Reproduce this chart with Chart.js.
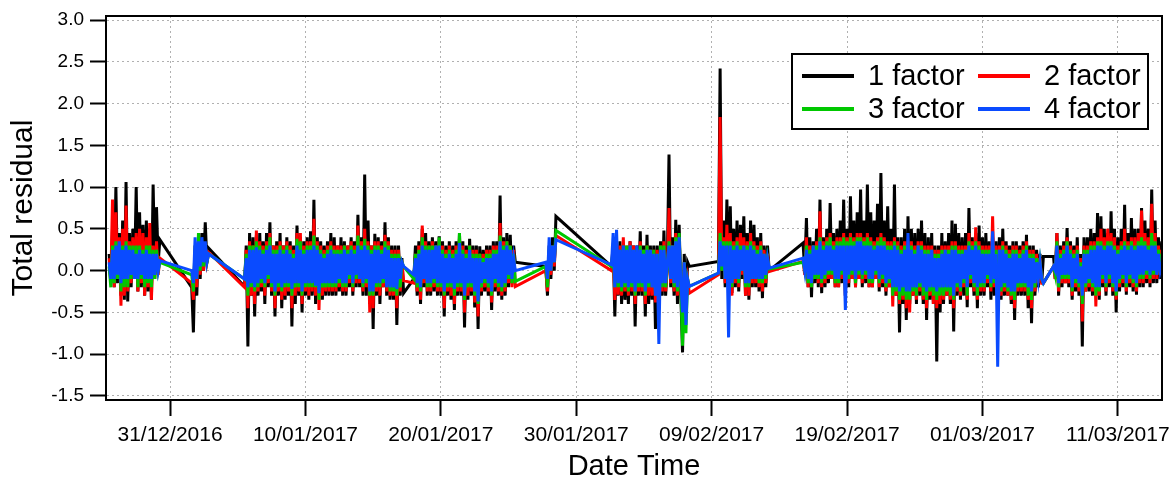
<!DOCTYPE html>
<html>
<head>
<meta charset="utf-8">
<script src="https://cdn.jsdelivr.net/npm/chart.js"></script>
<style>
  html, body { margin: 0; padding: 0; background: #fff; }
  #wrap { width: 1172px; height: 482px; }
</style>
</head>
<body>
<div id="wrap"><canvas id="residChart" width="1172" height="482"></canvas></div>
<script>
//RESIDUALS OF THE FACTOR SOLUTIONS, DEC 2016 - MAR 2017
//x values are days counted from 31/12/2016 00:00, sampled every 3 h inside each run

var STEP = 0.125;
var segStart = [-4.5, 1.6, 5.5, 18, 27.75, 32.6, 40.5, 46.75, 65.25];

var tickDays = [0, 10, 20, 30, 40, 50, 60, 70];
var tickLabels = ['31/12/2016', '10/01/2017', '20/01/2017', '30/01/2017',
                  '09/02/2017', '19/02/2017', '01/03/2017', '11/03/2017'];
var yTicks = [-1.5, -1.0, -0.5, 0.0, 0.5, 1.0, 1.5, 2.0, 2.5, 3.0];

var seriesNames = ['1 factor', '2 factor', '3 factor', '4 factor'];
var seriesColors = ['#000000', '#ff0000', '#00c800', '#0a4bff'];

//one sub array per measuring run
var factor1 = [
    [0.2, -0.1, 0.5, -0.2, 1.0, -0.15, 0.45, -0.3, 0.6, -0.35, 1.06, -0.37, 0.45, -0.2, 0.5, -0.1,
     1.0, -0.25, 0.7, -0.2, 0.55, -0.3, 0.6, -0.25, 0.5, -0.35, 1.03, 0.0, 0.76, 0.1, 0.37],
    [-0.2, -0.74, 0.2, -0.3, 0.35, -0.1, 0.45, 0.0, 0.58, 0.1, 0.27],
    [-0.19, 0.3, -0.91, 0.45, -0.3, 0.4, -0.55, 0.42, -0.3, 0.45,
     -0.25, 0.35, -0.4, 0.45, -0.2, 0.58, -0.3, 0.3, -0.55, 0.35,
     -0.3, 0.45, -0.45, 0.3, -0.35, 0.4, -0.3, 0.35, -0.67, 0.3,
     -0.4, 0.54, -0.3, 0.4, -0.5, 0.35, -0.3, 0.4, -0.35, 0.47,
     -0.3, 0.85, -0.4, 0.4, -0.3, 0.35, -0.35, 0.3, -0.3, 0.35,
     -0.3, 0.45, -0.3, 0.4, -0.3, 0.3, -0.25, 0.4, -0.3, 0.35,
     -0.3, 0.3, -0.2, 0.4, -0.3, 0.35, -0.2, 0.67, -0.2, 0.4,
     -0.3, 1.15, -0.3, 0.6, -0.4, 0.3, -0.7, 0.44, -0.3, 0.4,
     -0.4, 0.35, -0.2, 0.58, -0.3, 0.4, -0.35, 0.3, -0.35, 0.3,
     -0.65, 0.3, -0.3, 0.15, -0.27],
    [-0.1, 0.3, -0.3, 0.35, -0.4, 0.5, -0.2, 0.45, -0.3, 0.35,
     -0.3, 0.4, -0.25, 0.35, -0.3, 0.41, -0.3, 0.35, -0.55, 0.3,
     -0.3, 0.35, -0.35, 0.3, -0.47, 0.35, -0.3, 0.45, -0.3, 0.35,
     -0.68, 0.3, -0.35, 0.38, -0.3, 0.3, -0.44, 0.3, -0.7, 0.29,
     -0.3, 0.25, -0.25, 0.3, -0.3, 0.3, -0.47, 0.35, -0.25, 0.35,
     -0.3, 0.9, -0.35, 0.4, -0.3, 0.45, -0.2, 0.43, -0.15, 0.3,
     0.1],
    [0.05, -0.3, 0.3, -0.1, 0.4, 0.0, 0.65],
    [0.05, 0.3, -0.55, 0.3, -0.3, 0.35, -0.4, 0.3, -0.35, 0.2,
     -0.4, 0.35, -0.3, 0.3, -0.67, 0.3, -0.3, 0.47, -0.3, 0.3,
     -0.55, 0.43, -0.4, 0.3, -0.35, 0.3, -0.7, 0.3, -0.4, 0.35,
     -0.3, 0.48, -0.3, 0.1, 1.39, -0.2, 0.4, -0.3, 0.61, -0.4,
     0.55, -0.3, -0.98, 0.2, -0.4, 0.1, 0.05],
    [0.11, 2.42, -0.1, 0.6, -0.2, 0.85, -0.25, 0.77, -0.27, 0.5, -0.2, 0.6, -0.25, 0.55, -0.1, 0.65,
     -0.3, 0.45, -0.35, 0.6, -0.2, 0.55, -0.2, 0.4, -0.25, 0.45, -0.33, 0.3, -0.2, 0.3, 0.0],
    [0.33, 0.0, 0.63, -0.2, 0.4, -0.32, 0.35, -0.15, 0.5, -0.2,
     0.85, -0.27, 0.4, -0.2, 0.5, -0.15, 0.81, -0.1, 0.45, -0.2,
     0.5, -0.2, 0.6, -0.15, 0.85, -0.3, 0.5, -0.2, 0.89, -0.1,
     0.6, -0.2, 0.7, -0.1, 0.97, -0.2, 0.6, -0.15, 1.03, -0.2,
     0.7, -0.2, 0.6, -0.1, 0.8, -0.25, 1.17, -0.2, 0.6, -0.3,
     0.77, -0.2, 0.5, -0.3, 1.03, -0.3, 0.4, -0.74, 0.4, -0.4,
     0.5, -0.59, 0.65, -0.4, 0.5, -0.3, 0.45, -0.4, 0.5, -0.3,
     0.6, -0.4, 0.45, -0.59, 0.4, -0.35, 0.45, -0.4, 0.3, -1.09,
     0.3, -0.5, 0.45, -0.4, 0.35, -0.3, 0.45, -0.4, 0.6, -0.73,
     0.56, -0.3, 0.45, -0.35, 0.4, -0.3, 0.45, -0.44, 0.75, -0.2,
     0.4, -0.3, 0.45, -0.45, 0.54, -0.3, 0.4, -0.3, 0.45, -0.2,
     0.35, -0.35, 0.4, -0.3, 0.35, -0.3, 0.4, -0.35, 0.5, -0.3,
     0.35, -0.3, 0.3, -0.4, 0.35, -0.59, 0.35, -0.3, 0.3, -0.3,
     0.35, -0.3, 0.43, -0.45, 0.3, -0.63, 0.3, -0.3, 0.25, -0.2,
     0.2, -0.15, 0.17],
    [0.17, -0.1, 0.45, -0.3, 0.3, -0.2, 0.35, -0.15, 0.51, -0.2,
     0.35, -0.35, 0.3, -0.25, 0.4, -0.3, 0.2, -0.91, 0.4, -0.25,
     0.4, -0.25, 0.5, -0.3, 0.45, -0.2, 0.69, -0.35, 0.65, -0.2,
     0.5, -0.3, 0.45, -0.2, 0.71, -0.3, 0.5, -0.5, 0.4, -0.25,
     0.5, -0.2, 0.79, -0.29, 0.45, -0.2, 0.63, -0.25, 0.5, -0.29,
     0.5, -0.2, 0.75, -0.2, 0.6, -0.15, 0.5, -0.2, 0.97, -0.15,
     0.6, -0.15, 0.4, -0.1, 0.35]
];

var factor2 = [
    [0.15, -0.15, 0.85, -0.2, 0.7, -0.1, 0.4, -0.42, 0.5, -0.3, 0.78, -0.25, 0.35, -0.15, 0.4, -0.1,
     0.45, -0.25, 0.5, -0.15, 0.45, -0.3, 0.4, -0.2, 0.57, -0.35, 0.3, -0.1, 0.35, -0.05, 0.15],
    [-0.15, -0.35, 0.3, -0.2, 0.4, -0.05, 0.35, 0.0, 0.3, 0.1, 0.22],
    [-0.2, 0.25, -0.45, 0.35, -0.3, 0.3, -0.4, 0.48, -0.25, 0.35,
     -0.2, 0.3, -0.3, 0.35, -0.15, 0.45, -0.25, 0.3, -0.45, 0.3,
     -0.25, 0.35, -0.35, 0.3, -0.3, 0.35, -0.25, 0.3, -0.45, 0.25,
     -0.3, 0.45, -0.25, 0.45, -0.4, 0.3, -0.25, 0.35, -0.3, 0.35,
     -0.25, 0.62, -0.3, 0.35, -0.47, 0.3, -0.3, 0.25, -0.25, 0.3,
     -0.25, 0.35, -0.25, 0.3, -0.25, 0.3, -0.2, 0.3, -0.25, 0.3,
     -0.25, 0.3, -0.15, 0.35, -0.25, 0.3, -0.15, 0.54, -0.15, 0.35,
     -0.25, 0.5, -0.2, 0.35, -0.5, 0.3, -0.45, 0.35, -0.25, 0.35,
     -0.3, 0.3, -0.2, 0.43, -0.25, 0.35, -0.3, 0.25, -0.3, 0.25,
     -0.45, 0.25, -0.25, 0.1, -0.12],
    [-0.15, 0.2, -0.25, 0.3, -0.35, 0.54, -0.15, 0.35, -0.25, 0.3,
     -0.25, 0.35, -0.2, 0.3, -0.25, 0.35, -0.25, 0.3, -0.45, 0.25,
     -0.25, 0.3, -0.3, 0.25, -0.4, 0.3, -0.25, 0.38, -0.25, 0.3,
     -0.5, 0.25, -0.3, 0.3, -0.25, 0.25, -0.38, 0.25, -0.55, 0.2,
     -0.25, 0.2, -0.2, 0.25, -0.25, 0.25, -0.38, 0.3, -0.2, 0.3,
     -0.25, 0.57, -0.3, 0.35, -0.25, 0.35, -0.15, 0.3, -0.2, 0.25,
     -0.19],
    [0.0, -0.25, 0.2, -0.05, 0.3, 0.05, 0.42],
    [0.0, 0.25, -0.35, 0.25, -0.29, 0.3, -0.3, 0.4, -0.25, 0.3,
     -0.3, 0.35, -0.25, 0.3, -0.4, 0.25, -0.25, 0.35, -0.25, 0.25,
     -0.4, 0.3, -0.3, 0.25, -0.3, 0.25, -0.38, 0.25, -0.3, 0.3,
     -0.25, 0.35, -0.25, 0.0, 0.75, -0.15, 0.3, -0.25, 0.45, -0.3,
     0.4, -0.2, -0.6, 0.1, -0.3, -0.1, -0.27],
    [-0.05, 1.84, 0.0, 0.4, -0.15, 0.55, -0.2, 0.45, -0.3, 0.35, -0.15, 0.4, -0.2, 0.45, -0.05, 0.4,
     -0.3, 0.35, -0.3, 0.45, -0.15, 0.35, -0.15, 0.3, -0.2, 0.35, -0.25, 0.25, -0.15, 0.2, -0.01],
    [0.11, -0.05, 0.4, -0.2, 0.3, -0.2, 0.3, -0.1, 0.35, -0.15,
     0.71, -0.2, 0.35, -0.15, 0.4, -0.1, 0.45, -0.1, 0.35, -0.2,
     0.4, -0.2, 0.4, -0.1, 0.45, -0.3, 0.4, -0.15, 0.45, -0.1,
     0.4, -0.2, 0.45, -0.1, 0.45, -0.15, 0.4, -0.1, 0.45, -0.2,
     0.4, -0.2, 0.35, -0.1, 0.4, -0.2, 0.45, -0.15, 0.4, -0.25,
     0.35, -0.2, 0.35, -0.43, 0.4, -0.3, 0.35, -0.4, 0.3, -0.35,
     0.35, -0.45, 0.35, -0.5, 0.35, -0.3, 0.3, -0.35, 0.35, -0.25,
     0.35, -0.35, 0.3, -0.45, 0.3, -0.3, 0.3, -0.4, 0.25, -0.45,
     0.25, -0.4, 0.3, -0.35, 0.3, -0.3, 0.3, -0.35, 0.35, -0.45,
     0.35, -0.25, 0.3, -0.3, 0.3, -0.2, 0.3, -0.35, 0.45, -0.15,
     0.35, -0.25, 0.52, -0.35, 0.35, -0.25, 0.3, -0.25, 0.3, -0.15,
     0.3, -0.25, 0.65, -0.2, 0.3, -0.25, 0.3, -0.3, 0.35, -0.25,
     0.3, -0.3, 0.25, -0.35, 0.3, -0.45, 0.3, -0.25, 0.25, -0.25,
     0.3, -0.25, 0.35, -0.35, 0.25, -0.45, 0.25, -0.25, 0.2, -0.15,
     0.15, -0.15, -0.15],
    [0.05, -0.1, 0.45, -0.25, 0.25, -0.15, 0.3, -0.15, 0.4, -0.15,
     0.3, -0.3, 0.25, -0.2, 0.3, -0.25, 0.15, -0.61, 0.3, -0.25,
     0.3, -0.2, 0.35, -0.25, 0.35, -0.43, 0.4, -0.3, 0.5, -0.15,
     0.4, -0.25, 0.5, -0.15, 0.45, -0.25, 0.4, -0.35, 0.3, -0.2,
     0.35, -0.15, 0.5, -0.25, 0.35, -0.15, 0.4, -0.2, 0.4, -0.25,
     0.45, -0.15, 0.72, -0.15, 0.45, -0.1, 0.4, -0.15, 0.8, -0.1,
     0.45, -0.1, 0.3, -0.05, 0.25]
];

var factor3 = [
    [0.05, -0.2, 0.3, -0.15, 0.35, -0.1, 0.3, -0.25, 0.3, -0.2, 0.35, -0.2, 0.3, -0.1, 0.3, -0.05,
     0.3, -0.2, 0.3, -0.1, 0.25, -0.2, 0.3, -0.15, 0.3, -0.2, 0.25, -0.1, 0.25, 0.0, 0.1],
    [-0.05, -0.25, 0.3, -0.1, 0.45, 0.0, 0.35, 0.05, 0.3, 0.1, 0.2],
    [-0.1, 0.2, -0.3, 0.3, -0.2, 0.3, -0.25, 0.35, -0.2, 0.3,
     -0.15, 0.25, -0.2, 0.3, -0.1, 0.4, -0.2, 0.25, -0.3, 0.25,
     -0.2, 0.3, -0.25, 0.25, -0.2, 0.3, -0.2, 0.25, -0.3, 0.2,
     -0.2, 0.38, -0.2, 0.35, -0.3, 0.25, -0.2, 0.3, -0.2, 0.3,
     -0.2, 0.42, -0.2, 0.3, -0.35, 0.25, -0.2, 0.2, -0.2, 0.25,
     -0.2, 0.3, -0.2, 0.25, -0.2, 0.25, -0.15, 0.25, -0.2, 0.3,
     -0.2, 0.25, -0.1, 0.3, -0.2, 0.25, -0.1, 0.42, -0.1, 0.3,
     -0.2, 0.38, -0.15, 0.3, -0.3, 0.25, -0.3, 0.3, -0.2, 0.3,
     -0.2, 0.25, -0.15, 0.35, -0.2, 0.3, -0.25, 0.2, -0.25, 0.2,
     -0.3, 0.2, -0.2, 0.1, 0.05],
    [-0.1, 0.2, -0.2, 0.25, -0.25, 0.4, -0.1, 0.3, -0.2, 0.3,
     -0.2, 0.3, -0.15, 0.3, -0.2, 0.4, -0.2, 0.25, -0.3, 0.2,
     -0.2, 0.25, -0.2, 0.2, -0.3, 0.25, -0.2, 0.45, -0.2, 0.25,
     -0.35, 0.2, -0.2, 0.3, -0.2, 0.2, -0.3, 0.2, -0.4, 0.2,
     -0.2, 0.15, -0.15, 0.2, -0.2, 0.2, -0.3, 0.25, -0.15, 0.25,
     -0.2, 0.42, -0.25, 0.3, -0.2, 0.35, -0.1, 0.3, -0.15, 0.2,
     -0.13],
    [0.05, -0.2, 0.25, 0.0, 0.3, 0.1, 0.48],
    [0.05, 0.25, -0.2, 0.3, -0.2, 0.25, -0.25, 0.3, -0.2, 0.3,
     -0.25, 0.3, -0.2, 0.25, -0.3, 0.25, -0.2, 0.3, -0.2, 0.25,
     -0.3, 0.3, -0.2, 0.25, -0.2, 0.25, -0.3, 0.2, -0.25, 0.3,
     -0.2, 0.3, -0.2, 0.05, 0.35, -0.1, 0.3, -0.2, 0.4, -0.25,
     0.45, -0.2, -0.9, 0.1, -0.75, -0.1, -0.19],
    [-0.03, 0.45, 0.0, 0.35, -0.1, 0.35, -0.15, 0.35, -0.2, 0.3, -0.1, 0.35, -0.15, 0.3, 0.0, 0.3,
     -0.2, 0.3, -0.2, 0.35, -0.1, 0.3, -0.1, 0.25, -0.15, 0.3, -0.15, 0.2, -0.1, 0.15, 0.02],
    [0.1, 0.0, 0.3, -0.15, 0.25, -0.2, 0.3, -0.1, 0.3, -0.1,
     0.4, -0.15, 0.3, -0.1, 0.35, -0.05, 0.4, -0.05, 0.3, -0.15,
     0.35, -0.15, 0.35, -0.05, 0.4, -0.2, 0.35, -0.1, 0.4, -0.05,
     0.35, -0.15, 0.4, -0.05, 0.4, -0.1, 0.35, -0.05, 0.4, -0.15,
     0.35, -0.15, 0.3, -0.05, 0.35, -0.15, 0.4, -0.1, 0.35, -0.2,
     0.3, -0.15, 0.3, -0.3, 0.35, -0.25, 0.3, -0.35, 0.25, -0.3,
     0.3, -0.35, 0.3, -0.35, 0.3, -0.25, 0.25, -0.3, 0.3, -0.2,
     0.3, -0.3, 0.25, -0.35, 0.25, -0.25, 0.25, -0.3, 0.2, -0.35,
     0.2, -0.3, 0.25, -0.3, 0.25, -0.25, 0.25, -0.3, 0.3, -0.35,
     0.3, -0.2, 0.25, -0.25, 0.25, -0.15, 0.25, -0.3, 0.35, -0.1,
     0.3, -0.2, 0.35, -0.3, 0.3, -0.2, 0.25, -0.2, 0.25, -0.1,
     0.25, -0.2, 0.35, -0.15, 0.25, -0.2, 0.25, -0.25, 0.3, -0.2,
     0.25, -0.25, 0.2, -0.3, 0.25, -0.35, 0.25, -0.2, 0.2, -0.2,
     0.25, -0.2, 0.3, -0.3, 0.2, -0.35, 0.2, -0.2, 0.15, -0.1,
     0.1, -0.1, -0.15],
    [0.05, -0.05, 0.35, -0.2, 0.2, -0.1, 0.25, -0.1, 0.35, -0.1,
     0.25, -0.25, 0.2, -0.15, 0.25, -0.2, 0.1, -0.4, 0.25, -0.2,
     0.25, -0.15, 0.3, -0.2, 0.3, -0.3, 0.35, -0.25, 0.35, -0.1,
     0.3, -0.2, 0.35, -0.1, 0.35, -0.2, 0.3, -0.3, 0.25, -0.15,
     0.3, -0.1, 0.35, -0.2, 0.3, -0.1, 0.35, -0.15, 0.3, -0.2,
     0.35, -0.1, 0.4, -0.1, 0.35, -0.05, 0.3, -0.1, 0.45, -0.05,
     0.35, -0.05, 0.25, 0.0, 0.2]
];

var factor4 = [
    [0.1, -0.1, 0.25, -0.1, 0.3, -0.05, 0.35, -0.15, 0.25, -0.1, 0.3, -0.1, 0.25, -0.05, 0.25, -0.1,
     0.2, -0.1, 0.25, -0.05, 0.2, -0.1, 0.25, -0.1, 0.2, -0.1, 0.2, -0.05, 0.2, 0.0, 0.12],
    [0.0, -0.15, 0.4, -0.1, 0.35, 0.05, 0.4, 0.1, 0.35, 0.1, 0.2],
    [-0.1, 0.15, -0.2, 0.25, -0.15, 0.25, -0.2, 0.28, -0.15, 0.25,
     -0.1, 0.2, -0.15, 0.25, -0.05, 0.3, -0.15, 0.2, -0.25, 0.2,
     -0.15, 0.25, -0.2, 0.2, -0.15, 0.25, -0.15, 0.2, -0.22, 0.15,
     -0.15, 0.3, -0.15, 0.25, -0.25, 0.2, -0.15, 0.25, -0.15, 0.25,
     -0.15, 0.3, -0.18, 0.25, -0.27, 0.2, -0.15, 0.15, -0.15, 0.2,
     -0.15, 0.25, -0.15, 0.2, -0.15, 0.2, -0.1, 0.2, -0.15, 0.25,
     -0.15, 0.2, -0.05, 0.25, -0.15, 0.2, -0.05, 0.3, -0.1, 0.25,
     -0.15, 0.3, -0.1, 0.25, -0.25, 0.2, -0.25, 0.25, -0.15, 0.25,
     -0.15, 0.2, -0.1, 0.28, -0.2, 0.25, -0.2, 0.15, -0.2, 0.15,
     -0.22, 0.15, -0.1, 0.1, 0.05],
    [-0.05, 0.15, -0.15, 0.2, -0.2, 0.3, -0.1, 0.25, -0.15, 0.25,
     -0.15, 0.25, -0.1, 0.3, -0.15, 0.3, -0.15, 0.2, -0.25, 0.15,
     -0.15, 0.2, -0.15, 0.15, -0.22, 0.2, -0.15, 0.33, -0.15, 0.2,
     -0.3, 0.15, -0.15, 0.25, -0.15, 0.15, -0.25, 0.15, -0.37, 0.15,
     -0.15, 0.1, -0.1, 0.15, -0.15, 0.15, -0.25, 0.2, -0.1, 0.2,
     -0.15, 0.35, -0.2, 0.25, -0.15, 0.3, -0.05, 0.25, -0.1, 0.15,
     0.0],
    [0.1, -0.1, 0.4, 0.0, 0.3, 0.1, 0.37],
    [0.07, 0.45, -0.2, 0.49, -0.15, 0.25, -0.2, 0.3, -0.15, 0.25,
     -0.2, 0.3, -0.15, 0.25, -0.25, 0.3, -0.15, 0.25, -0.15, 0.2,
     -0.25, 0.25, -0.15, 0.25, -0.2, 0.2, -0.3, 0.2, -0.88, 0.25,
     -0.15, 0.25, -0.15, 0.1, 0.3, -0.1, 0.3, -0.15, 0.35, -0.2,
     0.4, -0.15, -0.5, 0.1, -0.65, -0.1, -0.19],
    [-0.03, 0.35, 0.05, 0.3, -0.1, 0.3, -0.8, 0.3, -0.15, 0.25, -0.1, 0.3, -0.1, 0.25, 0.0, 0.3,
     -0.15, 0.25, -0.15, 0.3, -0.1, 0.25, -0.1, 0.2, -0.1, 0.25, -0.1, 0.2, -0.05, 0.15, 0.03],
    [0.15, 0.0, 0.25, -0.1, 0.2, -0.15, 0.3, -0.05, 0.25, -0.05,
     0.35, -0.1, 0.25, -0.05, 0.3, 0.0, 0.3, 0.0, 0.25, -0.1,
     0.3, -0.1, 0.3, 0.0, 0.3, -0.47, 0.3, -0.05, 0.3, 0.0,
     0.3, -0.1, 0.35, 0.0, 0.35, -0.05, 0.3, 0.0, 0.3, -0.1,
     0.3, -0.1, 0.25, 0.0, 0.3, -0.1, 0.3, -0.05, 0.3, -0.15,
     0.25, -0.1, 0.25, -0.2, 0.3, -0.2, 0.25, -0.25, 0.2, -0.2,
     0.25, -0.25, 0.45, -0.25, 0.25, -0.2, 0.2, -0.2, 0.3, -0.15,
     0.25, -0.2, 0.2, -0.25, 0.2, -0.2, 0.25, -0.2, 0.15, -0.25,
     0.15, -0.2, 0.2, -0.2, 0.25, -0.2, 0.2, -0.2, 0.25, -0.3,
     0.25, -0.15, 0.2, -0.2, 0.2, -0.1, 0.25, -0.2, 0.3, -0.05,
     0.25, -0.15, 0.3, -0.2, 0.25, -0.15, 0.2, -0.15, 0.2, -0.05,
     0.2, -0.15, 0.47, -0.1, 0.2, -1.15, 0.25, -0.2, 0.25, -0.15,
     0.2, -0.2, 0.15, -0.25, 0.2, -0.25, 0.2, -0.15, 0.15, -0.15,
     0.2, -0.15, 0.25, -0.2, 0.15, -0.25, 0.15, -0.15, 0.1, -0.1,
     0.1, -0.1, -0.15],
    [0.05, 0.0, 0.3, -0.15, 0.15, -0.05, 0.2, -0.05, 0.3, -0.05,
     0.2, -0.2, 0.15, -0.1, 0.2, -0.15, 0.05, -0.3, 0.2, -0.15,
     0.2, -0.1, 0.25, -0.15, 0.25, -0.2, 0.3, -0.2, 0.3, -0.05,
     0.25, -0.15, 0.3, -0.05, 0.3, -0.15, 0.25, -0.25, 0.2, -0.1,
     0.25, -0.05, 0.3, -0.15, 0.25, -0.05, 0.3, -0.1, 0.25, -0.15,
     0.3, -0.05, 0.3, -0.05, 0.3, 0.0, 0.25, -0.05, 0.3, 0.0,
     0.3, -0.05, 0.2, 0.0, 0.1]
];

var FONT = "'Liberation Sans', Arial, sans-serif";

//runs -> {x, y} points, runs joined by straight lines like the original
function toPoints(runs) {
    var pts = [];
    runs.forEach(function (run, s) {
        run.forEach(function (v, i) {
            pts.push({x: segStart[s] + i * STEP, y: v});
        });
    });
    return pts;
}

//legend box drawn inside the plot, two columns
var boxLegend = {
    id: 'boxLegend',
    afterDraw: function (chart) {
        var c = chart.ctx;
        c.save();
        c.fillStyle = '#fff';
        c.fillRect(792, 54, 356, 75);
        c.strokeStyle = '#000';
        c.lineWidth = 2;
        c.strokeRect(792, 54, 356, 75);
        c.font = '29px ' + FONT;
        c.textBaseline = 'middle';
        c.textAlign = 'left';
        var cols = [802, 978];
        var rows = [76, 109];
        for (var k = 0; k < 4; k++) {
            var lx = cols[k % 2], ly = rows[Math.floor(k / 2)];
            c.strokeStyle = seriesColors[k];
            c.lineWidth = 4;
            c.beginPath();
            c.moveTo(lx, ly);
            c.lineTo(lx + 52, ly);
            c.stroke();
            c.fillStyle = '#000';
            c.fillText(seriesNames[k], lx + 66, ly + 1);
        }
        c.restore();
    }
};

//black frame round the plot
var frame = {
    id: 'frame',
    afterDatasetsDraw: function (chart) {
        var a = chart.chartArea, c = chart.ctx;
        c.save();
        c.strokeStyle = '#000';
        c.lineWidth = 2;
        c.strokeRect(a.left, a.top, a.right - a.left, a.bottom - a.top);
        c.restore();
    }
};

//first dataset is drawn last, so blue goes first to end on top
var ds = [factor4, factor3, factor2, factor1].map(function (runs, j) {
    var k = 3 - j;
    return {
        label: seriesNames[k],
        data: toPoints(runs),
        borderColor: seriesColors[k],
        backgroundColor: seriesColors[k],
        borderWidth: 3,
        pointRadius: 0,
        fill: false,
        tension: 0
    };
});

new Chart(document.getElementById('residChart').getContext('2d'), {
    type: 'line',
    data: {datasets: ds},
    options: {
        responsive: false,
        animation: false,
        events: [],
        layout: {padding: {left: 0, right: 10, top: 16, bottom: 0}},
        plugins: {legend: {display: false}, tooltip: {enabled: false}},
        scales: {
            x: {
                type: 'linear',
                min: -4.73,
                max: 73.26,
                afterBuildTicks: function (s) {
                    s.ticks = tickDays.map(function (v) { return {value: v}; });
                },
                afterFit: function (s) {
                    s.height = 82;
                    s.paddingLeft = 0;
                    s.paddingRight = 0;
                },
                ticks: {
                    autoSkip: false,
                    maxRotation: 0,
                    padding: 7,
                    color: '#000',
                    font: {family: FONT, size: 21},
                    callback: function (v) { return tickLabels[tickDays.indexOf(v)]; }
                },
                grid: {
                    color: '#b0b0b0',
                    lineWidth: 1,
                    tickLength: 16,
                    tickColor: '#000',
                    tickWidth: 2
                },
                border: {display: true, color: '#000', width: 2, dash: [2, 3]},
                title: {
                    display: true,
                    text: 'Date Time',
                    color: '#000',
                    font: {family: FONT, size: 29, lineHeight: 1},
                    padding: {top: 0, bottom: 1}
                }
            },
            y: {
                type: 'linear',
                min: -1.55,
                max: 3.05,
                afterBuildTicks: function (s) {
                    s.ticks = yTicks.map(function (v) { return {value: v}; });
                },
                afterFit: function (s) {
                    s.width = 106;
                    s.paddingTop = 0;
                    s.paddingBottom = 0;
                },
                ticks: {
                    padding: 6,
                    color: '#000',
                    font: {family: FONT, size: 19},
                    callback: function (v) { return v.toFixed(1); }
                },
                grid: {
                    color: '#b0b0b0',
                    lineWidth: 1,
                    tickLength: 16,
                    tickColor: '#000',
                    tickWidth: 2
                },
                border: {display: true, color: '#000', width: 2, dash: [2, 3]},
                title: {
                    display: true,
                    text: 'Total residual',
                    color: '#000',
                    font: {family: FONT, size: 30, lineHeight: 1},
                    padding: {top: 9, bottom: 0}
                }
            }
        }
    },
    plugins: [frame, boxLegend]
});
</script>
</body>
</html>
